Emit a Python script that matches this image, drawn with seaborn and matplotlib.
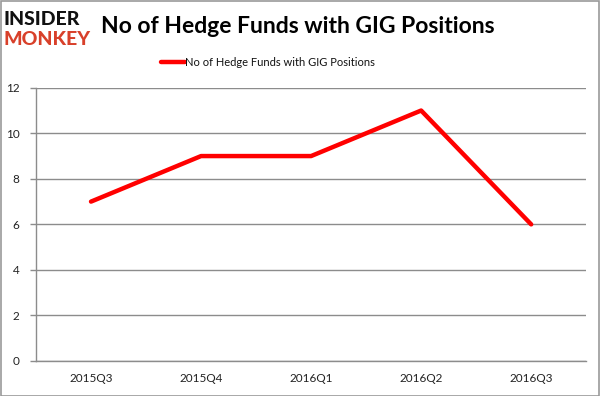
import matplotlib
matplotlib.use("Agg")
import matplotlib.pyplot as plt
import seaborn as sns
import pandas as pd
import numpy as np

quarters = ["2015Q3", "2015Q4", "2016Q1", "2016Q2", "2016Q3"]
funds = [7, 9, 9, 11, 6]
series_name = "No of Hedge Funds with GIG Positions"

sns.set_theme(style="white")
plt.rcParams['font.family'] = ['Lato', 'DejaVu Sans']

df = pd.DataFrame({"quarter": quarters, "funds": funds, "series": series_name})

fig = plt.figure(figsize=(6.0, 3.96), dpi=100)
ax = fig.add_axes([0.06, 0.0884, 0.917, 0.69])

sns.lineplot(data=df, x="quarter", y="funds", hue="series", palette=["#ff0000"],
             linewidth=3.2, ax=ax, legend=False, sort=False)

grey = "#8c8c8c"
ax.set_xlim(-0.5, 4.5)
ax.set_ylim(0, 12)
ax.set_yticks(range(0, 13, 2))
ax.yaxis.grid(True, color=grey, linewidth=1)
ax.set_axisbelow(True)
for s in ["top", "right"]:
    ax.spines[s].set_visible(False)
for s in ["left", "bottom"]:
    ax.spines[s].set_color(grey)
    ax.spines[s].set_linewidth(1)

ax.set_xticks(range(len(quarters)))
ax.set_xticklabels(quarters)
ax.set_xticks(np.arange(-0.5, len(quarters), 1.0), minor=True)
ax.tick_params(axis="x", which="major", length=0, pad=9, labelsize=8.5, colors="#222222")
ax.tick_params(axis="x", which="minor", length=5, width=1, color=grey, direction="out")
ax.tick_params(axis="y", which="major", length=4, width=1, color=grey, direction="out",
               labelsize=8.5, pad=8, labelcolor="#222222", left=True)
ax.set_xlabel("")
ax.set_ylabel("")

# title
fig.text(0.497, 0.932, series_name, ha="center", va="center", fontsize=16.5,
         fontweight="bold", color="#000000")
# legend
fig.lines.append(plt.Line2D([0.268, 0.308], [0.843, 0.843], transform=fig.transFigure,
                            color="#ff0000", linewidth=3.2, solid_capstyle="round"))
fig.text(0.309, 0.843, series_name, ha="left", va="center", fontsize=8, color="#111111")

# logo
fig.text(0.006, 0.952, "INSIDER", ha="left", va="center", fontsize=14,
         fontweight="black", color="#111111")
fig.text(0.006, 0.900, "MONKEY", ha="left", va="center", fontsize=14,
         fontweight="black", color="#d8402a")

# frame
fig.patches.append(plt.Rectangle((0.001, 0.001), 0.997, 0.996, transform=fig.transFigure,
                                 fill=False, edgecolor="#999999", linewidth=1.2))

fig.savefig("out.png", dpi=100)
